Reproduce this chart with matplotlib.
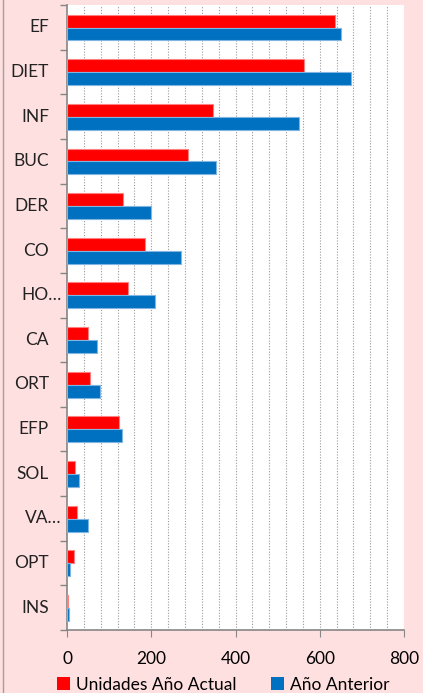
import numpy as np
import matplotlib.pyplot as plt
from matplotlib.lines import Line2D
from matplotlib.patches import Patch

# Data
categories = ['EF', 'DIET', 'INF', 'BUC', 'DER', 'CO', 'HO…', 'CA', 'ORT', 'EFP', 'SOL', 'VA…', 'OPT', 'INS']
actual = [636, 562, 346, 288, 134, 185, 144, 51, 55, 123, 19, 24, 17, 2]
previous = [650, 675, 551, 353, 199, 271, 209, 72, 79, 130, 28, 51, 7, 4]
x_ticks = [0, 200, 400, 600, 800]

plt.rcParams['font.family'] = ['Lato', 'DejaVu Sans']

BG = '#FFE0E0'
RED = '#FF0000'
BLUE = '#0070C0'
GREY = '#868686'

fig = plt.figure(figsize=(4.23, 6.93), dpi=100, facecolor=BG)
ax = fig.add_axes([67 / 423, 1 - 630 / 693, 337 / 423, 625 / 693])
ax.set_facecolor('white')

y = np.arange(len(categories))
h = 0.29
ax.barh(y - 0.14, actual, height=h, color=RED, edgecolor='#FF8080', linewidth=0.8, zorder=3)
ax.barh(y + 0.15, previous, height=h, color=BLUE, edgecolor='#7FB5E0', linewidth=0.8, zorder=3)

ax.set_xlim(0, 800)
ax.set_ylim(len(categories) - 0.5, -0.5)

# Dotted vertical gridlines every 40
for gx in range(40, 801, 40):
    ax.axvline(gx, color='#9A9A9A', linestyle=(0, (1, 1.5)), linewidth=0.8, zorder=1)

ax.set_xticks(x_ticks)
ax.set_xticklabels([str(v) for v in x_ticks], fontsize=12.5)
ax.tick_params(axis='x', direction='out', length=5, color=GREY, pad=10)

# Category boundary ticks on the y axis
ax.set_yticks(np.arange(-0.5, len(categories), 1.0))
ax.set_yticklabels([])
ax.tick_params(axis='y', direction='out', length=5, color=GREY, width=1)

for i, c in enumerate(categories):
    off = -4 if c.endswith('…') else -13
    ax.annotate(c, xy=(0, i), xycoords=('axes fraction', 'data'),
                xytext=(off, 0), textcoords='offset points',
                ha='right', va='center', fontsize=12.5, color='#222222')

for s in ['top', 'right']:
    ax.spines[s].set_visible(False)
ax.spines['left'].set_color(GREY)
ax.spines['bottom'].set_color(GREY)
ax.spines['left'].set_linewidth(1.2)
ax.spines['bottom'].set_linewidth(1.2)

# Legend
handles = [Patch(facecolor=RED, label='Unidades Año Actual'),
           Patch(facecolor=BLUE, label='Año Anterior')]
fig.legend(handles=handles, loc='center', bbox_to_anchor=(0.528, 0.012), ncol=2,
           frameon=False, fontsize=12.5, handlelength=0.75, handleheight=0.75,
           handletextpad=0.35, columnspacing=2.0, borderaxespad=0)

# Outer border on left
fig.add_artist(Line2D([2.5 / 423, 2.5 / 423], [0, 1], transform=fig.transFigure, color='#A0A0A0', linewidth=1))

plt.savefig('out.png', dpi=100, facecolor=BG)
